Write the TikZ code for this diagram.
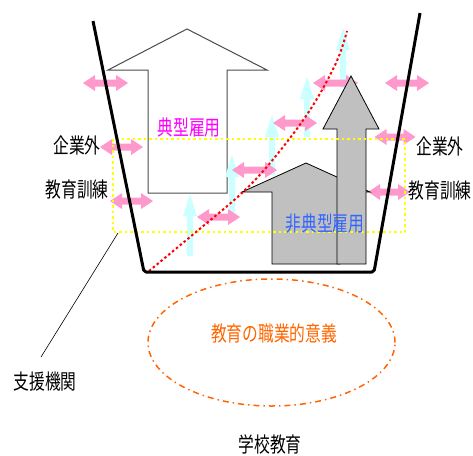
\documentclass[tikz,border=0pt]{standalone}
\usepackage{fontspec}
\setmainfont{Noto Sans CJK JP}[FakeStretch=0.75]
\definecolor{pinkA}{HTML}{FF99CC}
\definecolor{cyanA}{HTML}{CCFFFF}
\definecolor{grayA}{HTML}{C0C0C0}
\definecolor{orangeA}{HTML}{FF6600}
\definecolor{blueA}{HTML}{3366FF}
\definecolor{magA}{HTML}{FF00FF}
\definecolor{yelA}{HTML}{FFFF00}
\definecolor{redA}{HTML}{FF0000}
\tikzset{
  pics/pinkdbl/.style={code={
    \fill[pinkA] ({-#1/2},0) -- ({-#1/2+12},-8) -- ({-#1/2+12},-3.5) -- ({#1/2-12},-3.5)
      -- ({#1/2-12},-8) -- ({#1/2},0) -- ({#1/2-12},8) -- ({#1/2-12},3.5)
      -- ({-#1/2+12},3.5) -- ({-#1/2+12},8) -- cycle;
    \coordinate (-c) at (0,0);
  }},
  pics/cyanup/.style={code={
    \fill[cyanA] (-3,{#1/2}) -- (-3,{-#1/2+22}) -- (-7,{-#1/2+22}) -- (0,{-#1/2})
      -- (7,{-#1/2+22}) -- (3,{-#1/2+22}) -- (3,{#1/2}) -- cycle;
    \coordinate (-c) at (0,0);
  }},
}
\begin{document}
\begin{tikzpicture}[x=1pt,y=-1pt,
  lbl/.style={font=\fontsize{21}{22}\selectfont, inner sep=0pt},
  grayshape/.style={fill=grayA, draw=black, line width=0.8pt, line join=miter},
  yeldot/.style={draw=yelA, line width=2pt, dash pattern=on 2.5pt off 3pt},
  reddot/.style={draw=redA, line width=2pt, dash pattern=on 2.5pt off 2.5pt},
]
\useasboundingbox (0,0) rectangle (473,455);
\fill[white] (0,0) rectangle (473,455);

% big white arrow (typical employment)
\draw[draw=black!70, line width=1pt, fill=white]
  (148,193) -- (148,70) -- (108,70) -- (187,29) -- (267,70) -- (227,70) -- (227,193) -- cycle;

% cyan upward arrows
\pic (c1) at (190,225) {cyanup=62};
\pic (c2) at (232,185) {cyanup=60};
\pic (c3) at (272,145) {cyanup=60};
\pic (c4) at (307,107) {cyanup=60};
\pic (c5) at (343,58) {cyanup=60};

% pink double arrows
\pic (pa) at (105.5,83) {pinkdbl=45};
\pic (pb) at (407,83) {pinkdbl=44};
\pic (pc) at (121.5,147) {pinkdbl=43};
\pic (pd) at (395,137) {pinkdbl=41};
\pic (pe) at (131.5,201) {pinkdbl=43};
\pic (pf) at (389,192) {pinkdbl=42};
\pic (pg) at (218.5,217) {pinkdbl=43};
\pic (ph) at (254.5,170) {pinkdbl=45};
\pic (pi) at (295,123) {pinkdbl=44};
\pic (pj) at (335.5,83) {pinkdbl=45};

% gray house (non-typical employment)
\draw[grayshape] (242,192) -- (306,163) -- (370,192) -- (340,192) -- (340,264)
  -- (272,264) -- (272,192) -- cycle;
% tall gray arrow
\draw[grayshape] (337,264) -- (337,129) -- (323,129) -- (351,76) -- (379,129)
  -- (366,129) -- (366,264) -- cycle;

% yellow dotted rectangle
\draw[yeldot] (113,139) rectangle (405,232);

% red dotted curve
\draw[reddot] plot[smooth, tension=0.6] coordinates
  {(149,271) (196,232) (243,192) (275,157) (310,110) (336,63) (347,31)};

% trapezoid (school)
\draw[line width=3pt, line join=round, rounded corners=2pt]
  (93,21) -- (144,272) -- (374,272) -- (420,13);

% ellipse
\draw[orangeA, line width=1.5pt, dash pattern=on 6pt off 4pt on 1.5pt off 4pt]
  (271.5,342.5) ellipse [x radius=123.5pt, y radius=63.5pt];

% labels
\node[lbl, text=magA] (typ) at (189,128) {典型雇用};
\node[lbl, text=blueA] (atyp) at (325,224) {非典型雇用};
\node[lbl] (kgL) at (77,145) {企業外};
\node[lbl] (kkL) at (77,190) {教育訓練};
\node[lbl] (kgR) at (440,146) {企業外};
\node[lbl] (kkR) at (440,191) {教育訓練};
\node[lbl] (sien) at (45,382) {支援機関};
\node[lbl] (gakko) at (270,444) {学校教育};
\node[lbl, text=orangeA] (igi) at (274,334) {教育の職業的意義};

% leader line
\coordinate (leadtop) at (118,233);
\coordinate (leadbot) at (41,357);
\draw[line width=0.6pt] (leadtop) -- (leadbot);
\end{tikzpicture}
\end{document}
